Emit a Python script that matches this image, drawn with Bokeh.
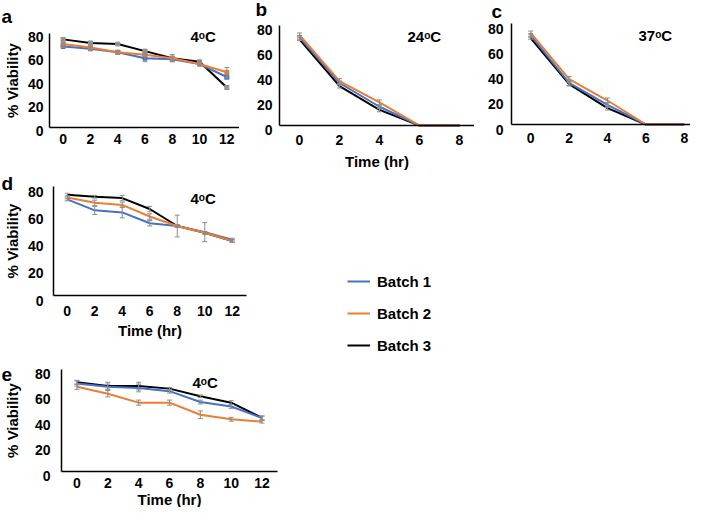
from bokeh.plotting import figure
from bokeh.layouts import column, row
from bokeh.models import (Range1d, FixedTicker, Whisker, ColumnDataSource, Label,
                          Legend, LegendItem, TeeHead, LinearAxis)
from bokeh.embed import file_html
from bokeh.resources import INLINE

FONT = "Liberation Sans"
C1, C2, C3 = "#4472C4", "#ED7D31", "#000000"
ERRC = "#8c8c8c"

# ---------------- data ----------------
t12 = [0, 2, 4, 6, 8, 10, 12]
t8 = [0, 2, 4, 6, 8]
y_ticks = [0, 20, 40, 60, 80]
batch_names = ["Batch 1", "Batch 2", "Batch 3"]

# panel a (4 C)
a_b1 = [69, 67, 64, 59, 58, 54, 43]
a_b2 = [71, 68, 64, 62, 59, 54, 47]
a_b3 = [75, 72, 71, 65, 59, 56, 34]
a_e1 = [1, 1.5, 1.5, 3, 2, 1, 2]
a_e2 = [1, 1.5, 1, 1, 3, 1, 4]
a_e3 = [1, 1, 0.5, 1, 1, 1, 1.5]

# panel b (24 C)
b_b1 = [70.5, 34, 15, 0, 0]
b_b2 = [72.5, 35.5, 18.5, 0, 0]
b_b3 = [69, 31.5, 12.5, 0, 0]
b_e1 = [1.5, 1.5, 1.5, 0, 0]
b_e2 = [1.5, 2, 2, 0, 0]
b_e3 = [1, 1.5, 1.5, 0, 0]

# panel c (37 C)
c_b1 = [70.5, 33, 15.5, 0, 0]
c_b2 = [72.5, 36, 19, 0, 0]
c_b3 = [68.5, 32, 13, 0, 0]
c_e1 = [1.5, 2, 2, 0, 0]
c_e2 = [1.5, 2, 2, 0, 0]
c_e3 = [1, 1.5, 1.5, 0, 0]

# panel d (4 C)
d_b1 = [70.5, 62.5, 61, 53, 51, 46.5, 41]
d_b2 = [72, 68, 66.5, 58, 51, 46, 40]
d_b3 = [74, 72.5, 71.5, 63.5, 51, 46, 40]
d_e1 = [1, 3, 4, 2, 8, 7, 1]
d_e2 = [1, 2, 2, 2, 1, 1, 1]
d_e3 = [1, 1, 2, 2, 1, 1, 1]

# panel e (4 C)
e_b1 = [69, 66.5, 65.5, 63, 54.5, 51, 42]
e_b2 = [66.5, 61, 54, 54, 44.5, 41, 39]
e_b3 = [70, 67, 67, 65, 59, 54, 42]
e_e1 = [2, 2, 3, 1.5, 1.5, 1.5, 1.5]
e_e2 = [2, 2.5, 2, 2, 3, 1.5, 1]
e_e3 = [1.5, 3, 3, 1, 1, 1.5, 1.5]

# ---------------- layout geometry (pixels) ----------------
# fig: canvas box (x0, x1, y0, y1); ax: axis box (left, right, top(=80), bottom(=0));
# ppx: px per x unit; lab: downward offset of y tick labels (px)
GEOM = {
    "a": dict(fig=(0, 239, 0, 172), ax=(49, 240, 33, 127), ppx=191 / 14, lab=3),
    "b": dict(fig=(239, 474, 0, 172), ax=(279, 477, 25, 125), ppx=20.0, lab=4.5),
    "c": dict(fig=(474, 690, 0, 172), ax=(511, 690, 23, 124), ppx=19.2, lab=5),
    "d": dict(fig=(0, 690, 172, 357), ax=(53, 245.5, 186, 295), ppx=192.5 / 14, lab=5),
    "e": dict(fig=(0, 280, 357, 507), ax=(61, 277, 369, 471), ppx=216 / 14, lab=4),
}
TICK_W = 15.6  # width of a two-digit bold 14px tick label


def to_data(key, px, py):
    g = GEOM[key]
    fl, fr, ft, fb = g["ax"]
    ppy = (fb - ft) / 80.0
    return -1 + (px - fl) / g["ppx"], (fb - py) / ppy


def style_axis(ax):
    ax.axis_line_color = "#000000"
    ax.axis_line_width = 1.5
    ax.major_tick_line_color = None
    ax.minor_tick_line_color = None
    ax.major_tick_in = 0
    ax.major_tick_out = 0
    ax.major_label_text_font = FONT
    ax.major_label_text_font_style = "bold"
    ax.major_label_text_font_size = "14px"
    ax.major_label_text_color = "#000000"
    ax.axis_label_text_font = FONT
    ax.axis_label_text_font_style = "bold"
    ax.axis_label_text_font_size = "15px"
    ax.axis_label_text_color = "#000000"


def make_panel(key, xs, series, errs, tick_std, ylab_right=None, xlab_std=None,
               markers=False):
    g = GEOM[key]
    x0, x1, y0, y1 = g["fig"]
    fl, fr, ft, fb = g["ax"]
    ppy = (fb - ft) / 80.0
    xa, ya_top = to_data(key, x0, y0)
    xb, ya_bot = to_data(key, x1, y1)
    x_axis_end = to_data(key, fr, fb)[0]
    p = figure(width=x1 - x0, height=y1 - y0,
               x_range=Range1d(xa, xb), y_range=Range1d(ya_bot, ya_top),
               output_backend="svg", toolbar_location=None, min_border=0)
    p.grid.visible = False
    p.outline_line_color = None
    p.background_fill_color = "white"
    p.border_fill_color = "white"

    xax = p.xaxis[0]
    yax = p.yaxis[0]
    style_axis(xax)
    style_axis(yax)
    xax.ticker = FixedTicker(ticks=xs)
    xax.fixed_location = 0
    xax.bounds = (-1, x_axis_end)
    xax.major_label_standoff = tick_std[0]
    if xlab_std is not None:
        xax.axis_label = "Time (hr)"
        xax.axis_label_standoff = xlab_std

    # y axis line (no tick labels) carrying the axis title
    yax.ticker = FixedTicker(ticks=[])
    yax.fixed_location = -1
    yax.bounds = (0, 80)
    if ylab_right is not None:
        yax.axis_label = "% Viability"
        yax.axis_label_standoff = int(round(fl - ylab_right))

    # y tick labels, drawn a few pixels below their values (as in the original)
    dv = g["lab"] / ppy
    p.extra_y_ranges = {"lab": Range1d(ya_bot + dv, ya_top + dv)}
    lab = LinearAxis(y_range_name="lab", ticker=FixedTicker(ticks=y_ticks),
                     fixed_location=-1, bounds=(0, 80))
    style_axis(lab)
    lab.axis_line_color = None
    lab.major_label_standoff = tick_std[1]
    p.add_layout(lab, "left")

    colors = [C1, C2, C3]
    order = [2, 0, 1]  # black underneath, then blue, then orange
    lines = {}
    for i in order:
        ys, col = series[i], colors[i]
        lines[i] = p.line(xs, ys, line_color=col, line_width=2)
        if markers:
            mc = "#9a9a9a" if i == 2 else col
            p.scatter(xs, ys, marker="square", size=4, fill_color=mc, line_color=mc)
    for i in order:
        ys, es = series[i], errs[i]
        bx = [x for x, e in zip(xs, es) if e > 0]
        lo = [y - e for y, e in zip(ys, es) if e > 0]
        hi = [y + e for y, e in zip(ys, es) if e > 0]
        src = ColumnDataSource(dict(x=bx, lower=lo, upper=hi))
        w = Whisker(source=src, base="x", lower="lower", upper="upper",
                    line_color=ERRC, line_width=1, level="annotation",
                    upper_head=TeeHead(size=5, line_color=ERRC, line_width=1),
                    lower_head=TeeHead(size=5, line_color=ERRC, line_width=1))
        p.add_layout(w)
    return p, [lines[0], lines[1], lines[2]]


def add_text(p, key, text, px, py, size):
    # px: left edge, py: vertical centre of the glyphs
    x, y = to_data(key, px, py)
    p.add_layout(Label(x=x, y=y, text=text, text_font=FONT, text_font_style="bold",
                       text_font_size=size, text_color="#000000",
                       text_align="left", text_baseline="middle"))


pa, _ = make_panel("a", t12, [a_b1, a_b2, a_b3], [a_e1, a_e2, a_e3], (6, 6),
                   ylab_right=20, markers=True)
pb, _ = make_panel("b", t8, [b_b1, b_b2, b_b3], [b_e1, b_e2, b_e3], (9, 7), xlab_std=5)
pc, _ = make_panel("c", t8, [c_b1, c_b2, c_b3], [c_e1, c_e2, c_e3], (8, 8))
pd, d_lines = make_panel("d", t12, [d_b1, d_b2, d_b3], [d_e1, d_e2, d_e3], (10, 10),
                         ylab_right=20, xlab_std=3)
pe, _ = make_panel("e", t12, [e_b1, e_b2, e_b3], [e_e1, e_e2, e_e3], (6, 11),
                   ylab_right=20, xlab_std=0)

add_text(pa, "a", "a", 1, 16, "19px")
add_text(pb, "b", "b", 255, 9, "19px")
add_text(pc, "c", "c", 491, 10.5, "19px")
add_text(pd, "d", "d", 1, 183, "19px")
add_text(pe, "e", "e", 1, 373.5, "19px")

add_text(pa, "a", "4ᵒC", 190, 36, "15px")
add_text(pb, "b", "24ᵒC", 407, 36, "15px")
add_text(pc, "c", "37ᵒC", 638, 35, "15px")
add_text(pd, "d", "4ᵒC", 190, 198, "15px")
add_text(pe, "e", "4ᵒC", 192, 382, "15px")

# legend (uses panel d's series renderers), placed right of panel d
legend = Legend(items=[LegendItem(label=n, renderers=[r]) for n, r in zip(batch_names, d_lines)],
                location=(347, 2), orientation="vertical",
                glyph_width=23, glyph_height=20, label_height=20, label_standoff=7,
                spacing=12, padding=0, margin=0, border_line_color=None,
                background_fill_alpha=0,
                label_text_font=FONT, label_text_font_style="bold",
                label_text_font_size="15px", label_text_color="#000000")
pd.add_layout(legend)

layout = column(row(pa, pb, pc), pd, pe)

with open("out.html", "w") as f:
    f.write(file_html(layout, INLINE))
